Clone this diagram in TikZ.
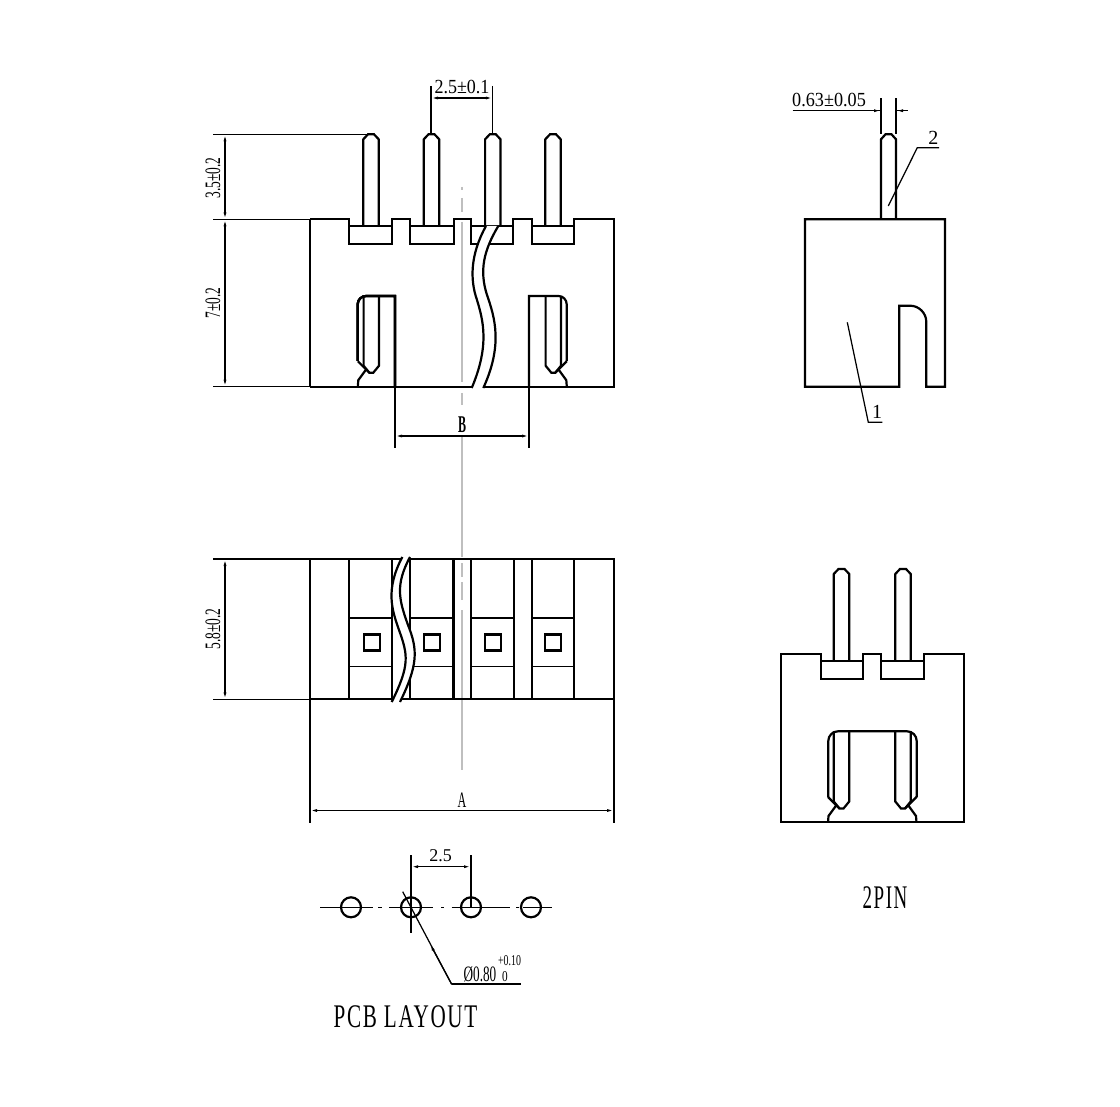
\documentclass[tikz,border=0pt]{standalone}
\usepackage{fontspec}
\setmainfont{Liberation Serif}
\usetikzlibrary{arrows.meta}
\tikzset{
  >={Latex[length=3.5pt,width=1.5pt]},
  heavy/.style={line width=1.1pt,line join=miter},
  thin line/.style={line width=0.62pt},
  axis line/.style={line width=0.8pt,gray!50},
  dim/.style={inner sep=0pt,font=\fontsize{10}{10}\selectfont},
  rotdim/.style={dim,font=\fontsize{11}{11}\selectfont,rotate=90,xscale=0.61},
  title/.style={dim,font=\fontsize{16.5}{16.5}\selectfont\addfontfeature{LetterSpace=8}},
}
% one pin seen from the side, #1 is its centre, #2 its top, #3 its foot
\NewDocumentCommand{\pinup}{mmm}{%
\draw[heavy] (#1-7.7,#3) -- (#1-7.7,#2+5) -- (#1-3,#2) -- (#1+3,#2) -- (#1+7.7,#2+5) -- (#1+7.7,#3);%
}
% pin tip seen through the slot, #1 centre, #2 slot top, #3 the tip, #4 side of the latch (-1/1)
\NewDocumentCommand{\pintip}{mmmm}{%
\draw[heavy] (#1-7.7,#2) -- (#1-7.7,#3-7) -- (#1-2,#3) -- (#1+2,#3) -- (#1+7.7,#3-7) -- (#1+7.7,#2);%
\draw[heavy] (#1+#4*13.5,#3-11.5) -- (#1+#4*2,#3) (#1+#4*5,#3-3.5) -- (#1+#4*13,#3+7.5) -- (#1+#4*13.5,#3+14);%
}
\NewDocumentCommand{\pinsq}{mm}{%
\draw[heavy] (#1-8,#2-8) rectangle (#1+8,#2+8);%
}
\begin{document}
\begin{tikzpicture}[x=0.5pt,y=-0.5pt]
  \useasboundingbox (0,0) rectangle (1120,1107);

  % Centre line.
  \foreach \a/\b in {187/190,198/212,222/382,393/405,436/557,563/577,582/600,610/770}
    \draw[axis line] (462,\a) -- (462,\b);

  % Front view.
  \draw[thin line] (310,219.3) -- (310,386.7);
  \draw[heavy] (310,219.3) -- (349.3,219.3) -- (349.3,244) -- (392.3,244) -- (392.3,219.3)
    -- (410,219.3) -- (410,244) -- (454,244) -- (454,219.3)
    -- (471,219.3) -- (471,244) -- (513,244) -- (513,219.3)
    -- (531.7,219.3) -- (531.7,244) -- (574.3,244) -- (574.3,219.3)
    -- (614,219.3) -- (614,386.7) -- (310,386.7);
  \foreach \x/\y in {349.3/392.3,410/454,471/513,531.7/574.3}
    \draw[heavy] (\x,226) -- (\y,226);
  \foreach \x in {371,431.5,492.8,553}
    \pinup{\x}{134.3}{226}
  % slots
  \draw[heavy] (395,386.7) -- (395,296) -- (366,296) arc[start angle=-90,end angle=-180,radius=8.3] -- (357.7,361);
  \draw[heavy] (529,386.7) -- (529,296) -- (558.4,296) arc[start angle=-90,end angle=0,radius=8.3] -- (566.7,361);
  \pintip{371.3}{296}{372.7}{-1}
  \pintip{553.3}{296}{372.7}{1}
  % break
  \fill[white] (486,226) .. controls (470,255) and (470,280) .. (477,300) .. controls (483,320) and (490,345) .. (471.7,388)
    -- (483.3,388) .. controls (503,345) and (495,318) .. (487,295) .. controls (479,270) and (484,250) .. (498.3,226) -- cycle;
  \draw[heavy] (486,226) .. controls (470,255) and (470,280) .. (477,300) .. controls (483,320) and (490,345) .. (471.7,388);
  \draw[heavy] (498.3,226) .. controls (484,250) and (479,270) .. (487,295) .. controls (495,318) and (503,345) .. (483.3,388);

  % Top view.
  \draw[thin line] (310,559) -- (310,699.3);
  \draw[heavy] (310,559) -- (614,559) -- (614,699.3) -- (310,699.3);
  \foreach \x/\y/\c in {349.3/392.3/371.8,410/453.5/431.7,471/514/493,531.7/574.3/553.3} {
    \draw[heavy] (\x,559) -- (\x,699.3) (\y,559) -- (\y,699.3);
    \draw[heavy] (\x,618.3) -- (\y,618.3);
    \draw[thin line] (\x,666.7) -- (\y,666.7);
    \pinsq{\c}{642.5}
  }
  \fill[white] (402.3,557) .. controls (385,590) and (392,610) .. (399,630) .. controls (408,655) and (410,665) .. (391.7,702)
    -- (400,702) .. controls (418,665) and (418,650) .. (408,625) .. controls (399,600) and (395,585) .. (410,557) -- cycle;
  \draw[heavy] (402.3,557) .. controls (385,590) and (392,610) .. (399,630) .. controls (408,655) and (410,665) .. (391.7,702);
  \draw[heavy] (410,557) .. controls (395,585) and (399,600) .. (408,625) .. controls (418,650) and (418,665) .. (400,702);

  % Side view.
  \draw[heavy] (926.3,386.7) -- (926.3,322) arc[start angle=0,end angle=-90,radius=16.3] -- (899.3,305.7)
    -- (899.3,386.7) -- (805,386.7) -- (805,219.3) -- (945,219.3) -- (945,386.7) -- cycle;
  \draw[heavy] (881,219.3) -- (881,139.3) -- (885.5,134.3) -- (891.5,134.3) -- (896,139.3) -- (896,219.3);

  % 2 pin view.
  \draw[heavy] (780.7,654.3) -- (820.7,654.3) -- (820.7,679.3) -- (862.7,679.3) -- (862.7,654.3)
    -- (881,654.3) -- (881,679.3) -- (924.3,679.3) -- (924.3,654.3) -- (964,654.3) -- (964,822) -- (780.7,822) -- cycle;
  \draw[heavy] (820.7,660.7) -- (862.7,660.7) (881,660.7) -- (924.3,660.7);
  \pinup{841.5}{569}{660.7}
  \pinup{903}{569}{660.7}
  \draw[heavy] (828.3,797.3) -- (828.3,741) arc[start angle=180,end angle=270,radius=9.7] -- (907,731.3)
    arc[start angle=-90,end angle=0,radius=9.7] -- (916.7,797.3);
  \pintip{841.5}{731.3}{808.5}{-1}
  \pintip{903}{731.3}{808.5}{1}

  % PCB layout.
  \foreach \a/\b in {320/372.7,378/381.7,389/432.7,441/444.3,451.7/510,516/519.3,523/551.7}
    \draw[thin line] (\a,907.3) -- (\b,907.3);
  \foreach \x [count=\i] in {351,411,471,531}
    \node[circle,draw,line width=1.1pt,minimum size=10pt,inner sep=0pt] (hole\i) at (\x,907.3) {};

  % Dimensions.
  \coordinate (pa) at (225,134.3);
  \coordinate (pb) at (225,219.3);
  \coordinate (pc) at (225,386.7);
  \draw[thin line] (213,134.3) -- (371,134.3) (213,219.3) -- (310,219.3) (213,386.7) -- (310,386.7);
  \draw[thin line,<->] (pa) -- (pb);
  \draw[thin line,<->] (pb) -- (pc);
  \node[rotdim] (dimpin) at (213,178) {3.5±0.2};
  \node[rotdim] (dimbody) at (213,303) {7±0.2};

  \draw[thin line] (431,86) -- (431,134.3) (492.8,86) -- (492.8,134.3);
  \draw[thin line,<->] (431,98) -- (492.8,98);
  \node[dim,xscale=0.9] (dimpitch) at (462,87) {2.5±0.1};

  \draw[thin line] (395,386.7) -- (395,447.5) (529,386.7) -- (529,447.5);
  \draw[thin line,<->] (395,436) -- (529,436);
  \node[dim,font=\fontsize{12}{12}\selectfont\bfseries,xscale=0.5] (dimb) at (462,425) {B};

  \draw[thin line] (213,559) -- (310,559) (213,699.3) -- (310,699.3);
  \draw[thin line,<->] (225,559) -- (225,699.3);
  \node[rotdim] (dimdepth) at (213,629) {5.8±0.2};

  \draw[thin line] (310,699.3) -- (310,823) (614,699.3) -- (614,823);
  \draw[thin line,<->] (310,810.5) -- (614,810.5);
  \node[dim,font=\fontsize{11}{11}\selectfont,xscale=0.55] (dima) at (462,800) {A};

  \draw[thin line] (792.7,110.7) -- (881,110.7) (896,110.7) -- (908.3,110.7);
  \draw[thin line] (881,98.3) -- (881,134.3) (896,98.3) -- (896,134.3);
  \draw[thin line,->] (870,110.7) -- (881,110.7);
  \draw[thin line,->] (907,110.7) -- (896,110.7);
  \node[dim,xscale=0.91] (dimlead) at (829,100) {0.63±0.05};

  \draw[thin line] (888.3,206) -- (917.3,147.7) -- (939,147.7);
  \node[dim] (tagtwo) at (933.3,138.3) {2};
  \draw[thin line] (847.3,322.3) -- (868.3,422.3) -- (882.3,422.3);
  \node[dim] (tagone) at (877,412.3) {1};

  \draw[thin line] (411,855) -- (411,932.7) (471,855) -- (471,907.3);
  \draw[thin line,<->] (411,866.7) -- (471,866.7);
  \node[dim,font=\fontsize{9}{9}\selectfont] (dimhole) at (440.5,855.7) {2.5};

  \coordinate (elbow) at (451.7,984.3);
  \coordinate (mid) at (430,944);
  \coordinate (lead) at (402.7,891.7);
  \draw[thin line] (elbow) -- (lead);
  \draw[thin line,->] (elbow) -- (mid);
  \draw[line width=1pt] (elbow) -- (520.7,984.3);
  \node[dim,font=\fontsize{11}{11}\selectfont,xscale=0.6] (dimdia) at (480,974) {Ø0.80};
  \node[dim,font=\fontsize{7.5}{7.5}\selectfont,xscale=0.66] (dimplus) at (509.5,960.7) {+0.10};
  \node[dim,font=\fontsize{7.5}{7.5}\selectfont,xscale=0.75] (dimzero) at (505,976.7) {0};

  % Titles.
  \node[title,xscale=0.64] (pcbtitle) at (405.5,1017) {PCB LAYOUT};
  \node[title,xscale=0.575] (pintitle) at (885,897.5) {2PIN};
\end{tikzpicture}
\end{document}
